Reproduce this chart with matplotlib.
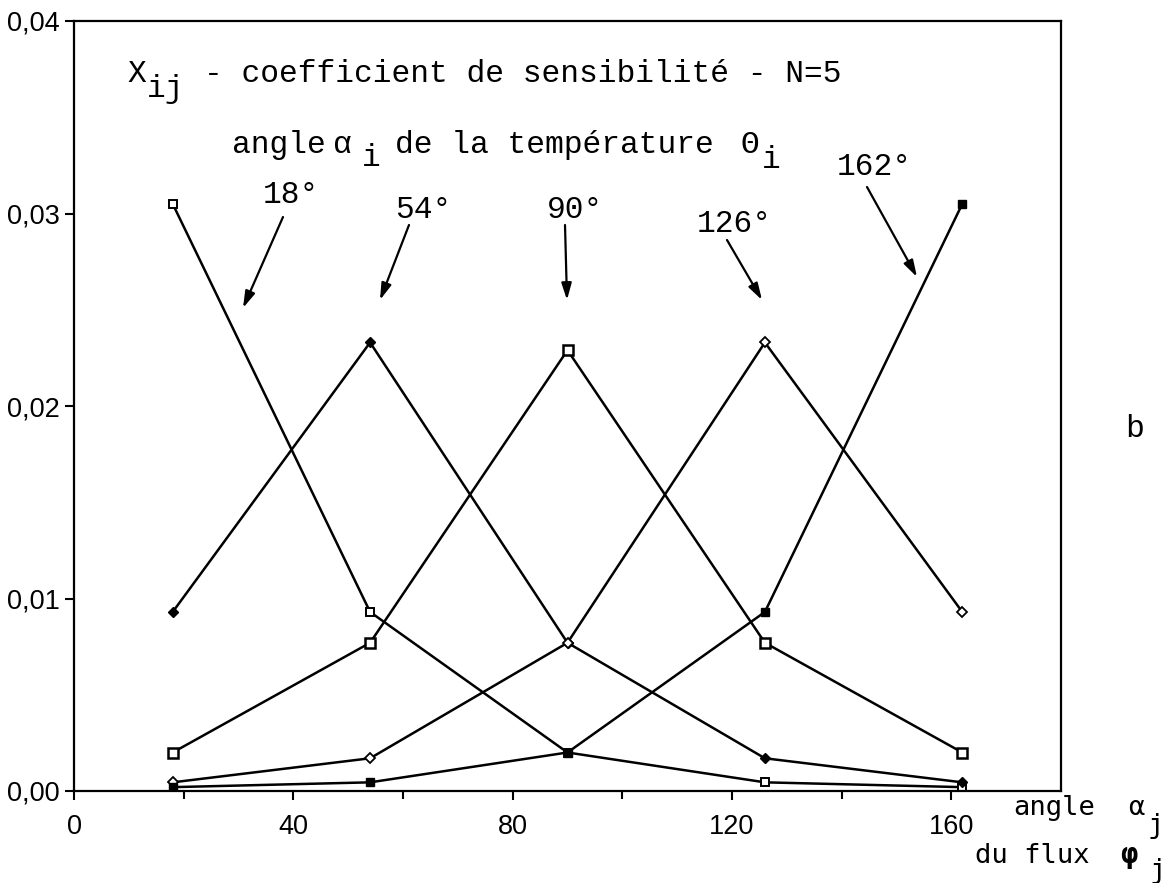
import matplotlib
matplotlib.use("Agg")
import matplotlib.pyplot as plt
from matplotlib.ticker import FuncFormatter

# Angles alpha_j du flux (axe x)
angles_flux = [18, 54, 90, 126, 162]

# Coefficients de sensibilite X_ij pour chaque angle alpha_i de la temperature
coef_18 = [0.0305, 0.0093, 0.0020, 0.00045, 0.0002]
coef_54 = [0.0093, 0.0233, 0.0077, 0.0017, 0.00045]
coef_90 = [0.0020, 0.0077, 0.0229, 0.0077, 0.0020]
coef_126 = [0.00045, 0.0017, 0.0077, 0.0233, 0.0093]
coef_162 = [0.0002, 0.00045, 0.0020, 0.0093, 0.0305]

etiquettes_angles = ["18°", "54°", "90°", "126°", "162°"]
ticks_x = [0, 40, 80, 120, 160]
ticks_y = [0.0, 0.01, 0.02, 0.03, 0.04]

W, H = 1171, 883


def px(x, y):
    """Convertit une position en pixels (origine en haut a gauche) en fraction de figure."""
    return x / W, 1 - y / H


fig = plt.figure(figsize=(W / 100, H / 100), dpi=100)
ax = fig.add_axes([74 / W, 1 - 791 / H, (1061 - 74) / W, (791 - 21) / H])

# Courbes: style de marqueur proche de l'original
series = [
    (coef_18, dict(marker="s", mfc="white", mec="black", ms=6, mew=1.4)),
    (coef_54, dict(marker="D", mfc="black", mec="black", ms=5.5, mew=1.0)),
    (coef_90, dict(marker="s", mfc="white", mec="black", ms=6.5, mew=1.8)),
    (coef_126, dict(marker="D", mfc="white", mec="black", ms=5.5, mew=1.3)),
    (coef_162, dict(marker="s", mfc="black", mec="black", ms=6, mew=1.0)),
]
for valeurs, style in series:
    ax.plot(angles_flux, valeurs, color="black", lw=1.8, **style)

ax.set_xlim(0, 180)
ax.set_ylim(0, 0.04)
ax.set_xticks(ticks_x)
ax.set_xticks([20, 60, 100, 140], minor=True)
ax.set_yticks(ticks_y)
ax.yaxis.set_major_formatter(FuncFormatter(lambda v, p: f"{v:.2f}".replace(".", ",")))
ax.tick_params(axis="both", which="major", direction="out", length=6.5, width=1.5,
               labelsize=19.5, color="black", labelfontfamily="Liberation Sans")
ax.tick_params(axis="x", which="major", pad=10)
ax.tick_params(axis="y", which="major", pad=4)
ax.tick_params(axis="x", which="minor", direction="out", length=5.5, width=1.5)
for s in ax.spines.values():
    s.set_linewidth(1.6)

mono = dict(family="Liberation Mono", fontsize=22.5, va="baseline", ha="left")

# Titre avec indices
fig.text(*px(127, 82), "X", **mono)
fig.text(*px(147, 97), "ij", **mono)
fig.text(*px(204, 82), "- coefficient de sensibilité - N=5", **mono)

fig.text(*px(232, 153), "angle", **mono)
fig.text(*px(333, 153), "α", **mono)
fig.text(*px(362, 166), "i", **mono)
fig.text(*px(395, 153), "de la température", **mono)
fig.text(*px(740, 153), "Θ", **mono)
fig.text(*px(762, 168), "i", **mono)

# Etiquettes des angles et fleches (positions en pixels)
pos_textes = [(263, 203), (395, 218), (547, 218), (697, 232), (837, 175)]
fleches = [((283, 217), (243, 308)), ((409, 225), (380, 300)), ((565, 225), (567, 300)),
           ((727, 240), (762, 300)), ((867, 187), (917, 277))]
for lab, (tx, ty), (debut, fin) in zip(etiquettes_angles, pos_textes, fleches):
    fig.text(*px(tx, ty), lab, **mono)
    ax.annotate("", xy=px(*fin), xycoords="figure fraction",
                xytext=px(*debut), textcoords="figure fraction",
                arrowprops=dict(arrowstyle="-|>,head_length=1.0,head_width=0.3",
                                color="black", lw=1.6, shrinkA=0, shrinkB=0))

# Legende de l'axe x
sans_mono = dict(family="DejaVu Sans Mono", fontsize=19.5, va="baseline", ha="left")
fig.text(*px(1013, 815), "angle", **sans_mono)
fig.text(*px(1128, 815), "α", **sans_mono)
fig.text(*px(1147, 833), "j", **sans_mono)
fig.text(*px(975, 863), "du flux", **sans_mono)
fig.text(*px(1120, 863), "φ", family="DejaVu Sans Mono", fontsize=21, fontweight="bold",
         va="baseline", ha="left")
fig.text(*px(1149, 878), "j", **sans_mono)

fig.text(*px(1125, 437), "b", **mono)

fig.savefig("out.png", dpi=100)
